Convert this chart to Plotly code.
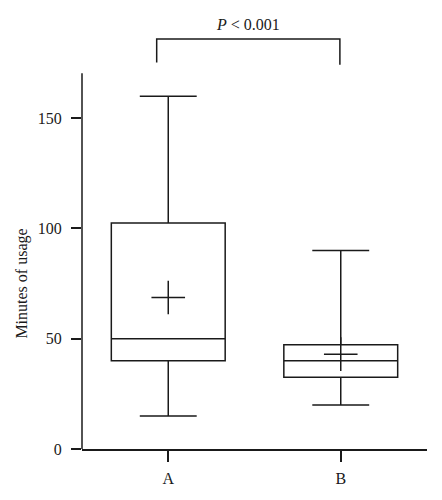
import plotly.graph_objects as go

groups = ["A", "B"]
q1 = [40, 32.5]
median = [50, 40]
q3 = [102.5, 47.3]
lower = [15, 20]
upper = [160, 90]
means = [68.7, 43]
p_label = "<i>P</i> < 0.001"
y_title = "Minutes of usage"
y_ticks = [0, 50, 100, 150]

INK = "#1a1a1a"
FONT = dict(family="Liberation Serif, Times New Roman, serif", size=16, color=INK)

fig = go.Figure()
for i, g in enumerate(groups):
    fig.add_trace(go.Box(
        x=[g], q1=[q1[i]], median=[median[i]], q3=[q3[i]],
        lowerfence=[lower[i]], upperfence=[upper[i]],
        line=dict(color=INK, width=1.5), fillcolor="rgba(0,0,0,0)",
        whiskerwidth=0.5, width=0.66, boxpoints=False, showlegend=False,
        hoverinfo="skip",
    ))

fig.add_trace(go.Scatter(
    x=groups, y=means, mode="markers", showlegend=False,
    marker=dict(symbol="cross-thin", size=24, line=dict(color=INK, width=1.5)),
    hoverinfo="skip",
))

# y axis line (ends below the bracket)
fig.add_shape(type="line", xref="paper", yref="y", x0=0, x1=0, y0=0, y1=170.4,
              line=dict(color=INK, width=1.5))

# significance bracket
bx0, bx1 = -0.067, 0.995
fig.add_shape(type="path", xref="x", yref="y",
              path=f"M {bx0},175.3 L {bx0},185.9 L {bx1},185.9 L {bx1},174.2",
              line=dict(color=INK, width=1.5))
fig.add_annotation(x=0.46, y=185.9, xref="x", yref="y", yshift=15, text=p_label,
                   showarrow=False, font=FONT, yanchor="middle")

fig.add_annotation(x=0, xref="paper", xshift=-60, y=75, yref="y",
                   text=y_title, textangle=-90, showarrow=False, font=FONT,
                   xanchor="center", yanchor="middle")

fig.update_layout(
    width=442, height=500,
    margin=dict(l=74, r=23, t=22, b=59),
    paper_bgcolor="white", plot_bgcolor="white",
    font=FONT,
    xaxis=dict(type="category", range=[-0.5, 1.5], showline=True, linecolor=INK,
               linewidth=1.5, ticks="outside", ticklen=11, tickwidth=1.5,
               tickcolor=INK, showgrid=False, zeroline=False,
               ticklabelstandoff=3),
    yaxis=dict(range=[0, 190], tickvals=y_ticks, showline=False, ticks="outside",
               ticklen=10, tickwidth=1.5, tickcolor=INK, showgrid=False,
               zeroline=False, ticklabelstandoff=6),
)

fig.write_html("out.html")
